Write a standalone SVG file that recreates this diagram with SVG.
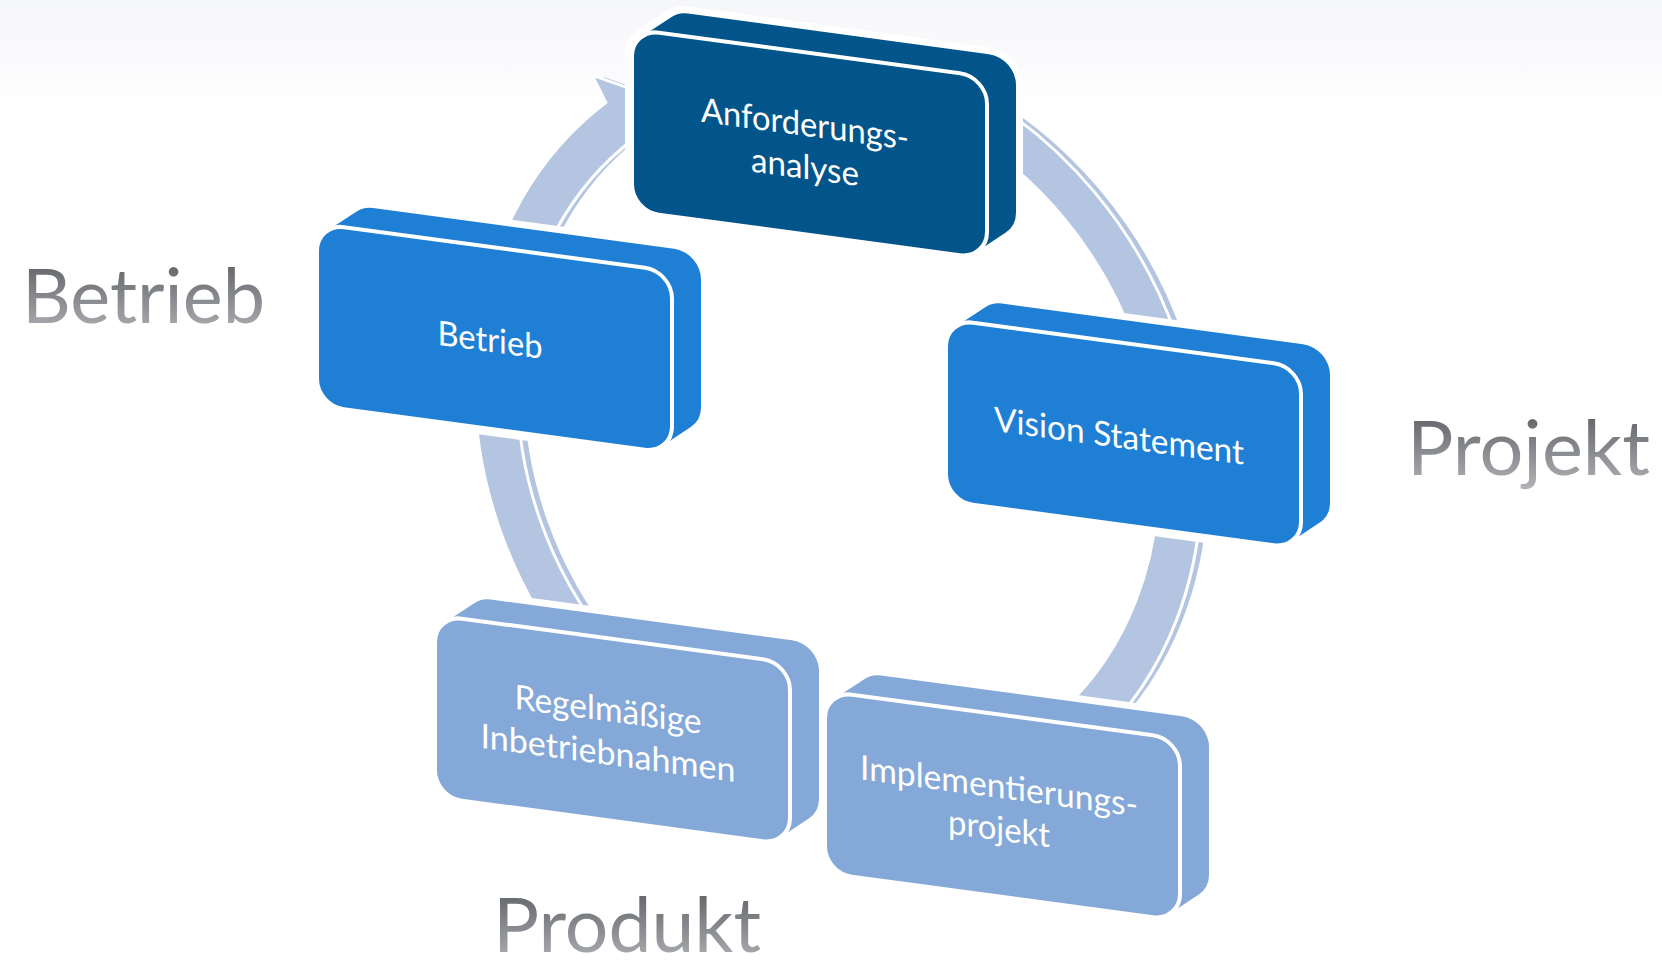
<svg xmlns="http://www.w3.org/2000/svg" xmlns:xlink="http://www.w3.org/1999/xlink" width="1662" height="964" viewBox="0 0 1662 964">
<defs>
<linearGradient id="gray" x1="0" y1="0" x2="0" y2="1">
<stop offset="0" stop-color="#525559"/>
<stop offset="1" stop-color="#B3B5B9"/>
</linearGradient>
<linearGradient id="topfade" x1="0" y1="0" x2="0" y2="1">
<stop offset="0" stop-color="#F6F7FA"/>
<stop offset="0.7" stop-color="#FBFBFD"/>
<stop offset="1" stop-color="#FFFFFF"/>
</linearGradient>
<polygon id="hull" points="27,27 56,4 357,4 357,132 328,155 27,155"/>
<rect id="face" x="0" y="0" width="355" height="182" rx="27" ry="27"/>
<ellipse id="ringshape" cx="838" cy="319.6" rx="342" ry="367"/>
<polygon id="arrowhead" points="607.8,21 595.1,-2.5 651,9.6 655.9,66.5 634.2,51"/>
<style>
.ring{fill:none;stroke:#B3C5E0;stroke-width:40}
.ringhalo{fill:none;stroke:#FFFFFF;stroke-width:46}
.ahead{fill:#B3C5E0;stroke:none}
.aheadhalo{fill:#FFFFFF;stroke:#FFFFFF;stroke-width:6;stroke-linejoin:round}
.halo{fill:#FFFFFF;stroke:#FFFFFF;stroke-width:68;stroke-linejoin:round}
.body{stroke-width:54;stroke-linejoin:round}
.dark{fill:#02558B;stroke:#02558B}
.mid{fill:#1F7FD5;stroke:#1F7FD5}
.light{fill:#84A8D7;stroke:#84A8D7}
.face{stroke:#FFFFFF;stroke-width:4}
.lbl{font-family:Lato,"Open Sans","Liberation Sans",sans-serif;font-size:34px;fill:#FFFFFF;text-anchor:middle}
.big{font-family:Lato,"Open Sans","Liberation Sans",sans-serif;font-size:76px;fill:url(#gray)}
</style>
</defs>
<rect x="0" y="0" width="1662" height="964" fill="#FFFFFF"/>
<rect x="0" y="0" width="1662" height="105" fill="url(#topfade)"/>

<g id="connectors">
<g transform="translate(8,-1) matrix(1,0.135,0,1,0,0)">
<use xlink:href="#ringshape" class="ring"/>
<use xlink:href="#arrowhead" class="ahead"/>
</g>
<g transform="matrix(1,0.135,0,1,0,0)">
<use xlink:href="#ringshape" class="ringhalo"/>
<use xlink:href="#arrowhead" class="aheadhalo"/>
<use xlink:href="#ringshape" class="ring"/>
<use xlink:href="#arrowhead" class="ahead"/>
</g>
</g>

<g id="node-anforderungsanalyse" transform="matrix(1,0.135,0,1,632,29)">
<use xlink:href="#hull" class="halo"/>
<use xlink:href="#hull" class="body dark"/>
<use xlink:href="#face" class="dark face"/>
<text class="lbl" x="173" y="83.5" textLength="208" lengthAdjust="spacingAndGlyphs">Anforderungs-</text>
<text class="lbl" x="173" y="126.5" textLength="108" lengthAdjust="spacingAndGlyphs">analyse</text>
</g>

<g id="node-vision-statement" transform="matrix(1,0.135,0,1,946,319)">
<use xlink:href="#hull" class="halo"/>
<use xlink:href="#hull" class="body mid"/>
<use xlink:href="#face" class="mid face"/>
<text class="lbl" x="173" y="105.5" textLength="250" lengthAdjust="spacingAndGlyphs">Vision Statement</text>
</g>

<g id="node-implementierungsprojekt" transform="matrix(1,0.135,0,1,825,691)">
<use xlink:href="#hull" class="halo"/>
<use xlink:href="#hull" class="body light"/>
<use xlink:href="#face" class="light face"/>
<text class="lbl" x="174" y="83.5" textLength="278" lengthAdjust="spacingAndGlyphs">Implementierungs-</text>
<text class="lbl" x="174" y="126" textLength="102" lengthAdjust="spacingAndGlyphs">projekt</text>
</g>

<g id="node-inbetriebnahmen" transform="matrix(1,0.135,0,1,435,615)">
<use xlink:href="#hull" class="halo"/>
<use xlink:href="#hull" class="body light"/>
<use xlink:href="#face" class="light face"/>
<text class="lbl" x="173" y="83" textLength="187" lengthAdjust="spacingAndGlyphs">Regelmäßige</text>
<text class="lbl" x="173" y="126.5" textLength="255" lengthAdjust="spacingAndGlyphs">Inbetriebnahmen</text>
</g>

<g id="node-betrieb" transform="matrix(1,0.135,0,1,317,223.5)">
<use xlink:href="#hull" class="halo"/>
<use xlink:href="#hull" class="body mid"/>
<use xlink:href="#face" class="mid face"/>
<text class="lbl" x="173" y="105" textLength="105" lengthAdjust="spacingAndGlyphs">Betrieb</text>
</g>

<g id="labels">
<text class="big" x="22" y="323" textLength="243" lengthAdjust="spacingAndGlyphs">Betrieb</text>
<text class="big" x="1407" y="475" textLength="243" lengthAdjust="spacingAndGlyphs">Projekt</text>
<text class="big" x="493" y="952" textLength="268" lengthAdjust="spacingAndGlyphs">Produkt</text>
</g>
</svg>
